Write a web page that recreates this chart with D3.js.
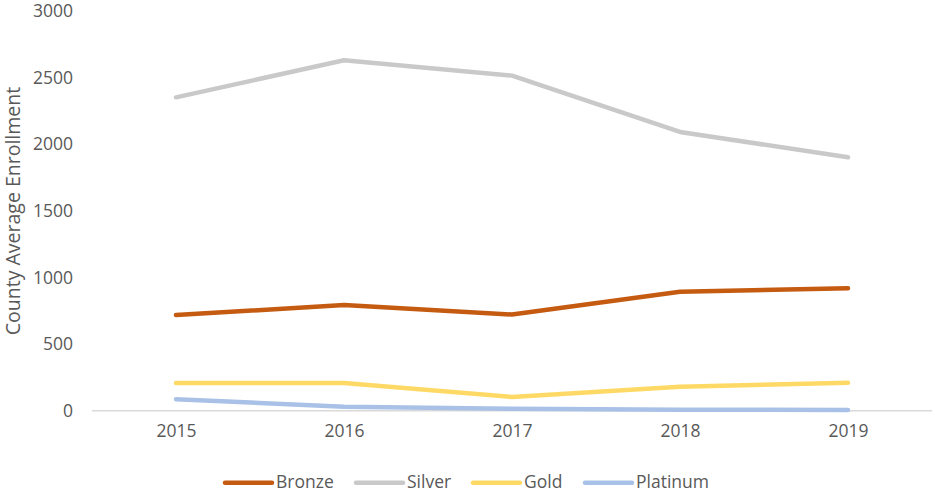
<!DOCTYPE html>
<html>
<head>
<meta charset="utf-8">
<script src="https://cdn.jsdelivr.net/npm/d3@7"></script>
<style>
  html, body { margin: 0; padding: 0; background: #fff; }
  svg { display: block; font-family: "Open Sans", sans-serif; }
</style>
</head>
<body>
<svg id="chart" width="935" height="492"></svg>
<script>
const years = ["2015", "2016", "2017", "2018", "2019"];
const bronze = [718, 793, 722, 893, 919];
const silver = [2352, 2630, 2515, 2092, 1902];
const gold = [207, 208, 103, 180, 209];
const platinum = [86, 30, 14, 8, 6];
const seriesNames = ["Bronze", "Silver", "Gold", "Platinum"];
const seriesColors = ["#C55A11", "#C9C9C9", "#FFD966", "#A9C1E7"];
const yTicks = [0, 500, 1000, 1500, 2000, 2500, 3000];
const yTitle = "County Average Enrollment";

const seriesValues = [bronze, silver, gold, platinum];
const svg = d3.select("#chart");

const plotLeft = 92, plotRight = 932, plotTop = 11, plotBottom = 410.7;

const x = d3.scalePoint().domain(years).range([plotLeft, plotRight]).padding(0.5);
const y = d3.scaleLinear().domain([0, 3000]).range([plotBottom, plotTop]);

// Y axis (labels only)
const yAxis = svg.append("g")
  .attr("transform", `translate(${plotLeft - 6},0)`)
  .call(d3.axisLeft(y).tickValues(yTicks).tickSize(0).tickPadding(13).tickFormat(d3.format("d")));
yAxis.select(".domain").remove();
yAxis.selectAll("text").attr("fill", "#595959").style("font-size", "17.5px").style("font-family", "'Open Sans', sans-serif");

// X axis
const xAxis = svg.append("g")
  .attr("transform", `translate(0,${plotBottom})`)
  .call(d3.axisBottom(x).tickSize(0).tickPadding(14));
xAxis.select(".domain").attr("stroke", "#D9D9D9").attr("stroke-width", 1.5)
  .attr("d", `M${plotLeft},0H${plotRight}`);
xAxis.selectAll("text").attr("fill", "#595959").style("font-size", "17.5px").style("font-family", "'Open Sans', sans-serif");

// Y title
svg.append("text")
  .attr("transform", `translate(20,${(85 + 337) / 2}) rotate(-90)`)
  .attr("text-anchor", "middle")
  .attr("fill", "#595959")
  .style("font-size", "19.5px")
  .text(yTitle);

// Lines
const line = d3.line().x((d, i) => x(years[i])).y(d => y(d));
seriesValues.forEach((vals, k) => {
  svg.append("path")
    .datum(vals)
    .attr("fill", "none")
    .attr("stroke", seriesColors[k])
    .attr("stroke-width", 4.5)
    .attr("stroke-linecap", "round")
    .attr("stroke-linejoin", "round")
    .attr("d", line);
});

// Legend
const legendX = [225, 356, 473, 585];
const legendY = 482.7;
seriesNames.forEach((name, k) => {
  const g = svg.append("g");
  g.append("line")
    .attr("x1", legendX[k]).attr("x2", legendX[k] + 47)
    .attr("y1", legendY).attr("y2", legendY)
    .attr("stroke", seriesColors[k]).attr("stroke-width", 4.5)
    .attr("stroke-linecap", "round");
  g.append("text")
    .attr("x", legendX[k] + 51)
    .attr("y", legendY + 5.5)
    .attr("fill", "#595959")
    .style("font-size", "17.5px")
    .text(name);
});
</script>
</body>
</html>
